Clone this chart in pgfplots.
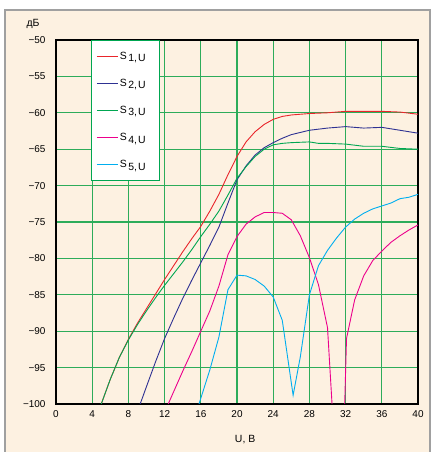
\documentclass[border=0pt]{standalone}
\usepackage{fontspec}
\setmainfont{Liberation Sans}
\usepackage{pgfplots}
\pgfplotsset{compat=1.18}
\definecolor{cream}{RGB}{253,241,225}
\definecolor{frame}{RGB}{160,160,160}
\definecolor{gridg}{RGB}{45,172,90}
\definecolor{sred}{RGB}{233,37,43}
\definecolor{sblue}{RGB}{46,49,146}
\definecolor{sgreen}{RGB}{0,166,81}
\definecolor{smag}{RGB}{236,0,140}
\definecolor{scyan}{RGB}{0,174,239}
\newcommand{\lent}[1]{S\kern1.5bp\raisebox{-2.5bp}{#1,\kern1bp U}}
\begin{document}
\begin{tikzpicture}[x=1bp,y=1bp]
\useasboundingbox (0,0) rectangle (431,452);
\fill[white] (0,0) rectangle (431,452);
\fill[cream] (5,-5) rectangle (430,442);
\draw[frame, line width=2bp] (5,-5) -- (5,442) -- (430,442) -- (430,-5);
\begin{axis}[
  at={(56bp,48bp)}, anchor=south west,
  scale only axis, width=362bp, height=364bp,
  xmin=0, xmax=40, ymin=-100, ymax=-50,
  xtick={0,4,...,40},
  xticklabels={0,4,8,12,16,20,24,28,32,36,40},
  ytick={-100,-95,...,-50},
  yticklabels={−100,−95,−90,−85,−80,−75,−70,−65,−60,−55,−50},
  major tick length=0pt,
  tick style={draw=none},
  grid=major,
  major grid style={draw=gridg, line width=1.1bp},
  axis line style={draw=black, line width=1.3bp},
  xticklabel style={font=\fontsize{10}{12}\selectfont, yshift=-3bp},
  yticklabel style={font=\fontsize{10}{12}\selectfont, xshift=-7bp},
  xlabel={U, B},
  xlabel style={font=\fontsize{10.5}{12}\selectfont, at={(axis cs:20.9,-100)}, anchor=center, yshift=-36bp},
  ylabel={дБ},
  ylabel style={font=\fontsize{10.5}{12}\selectfont, rotate=-90, at={(rel axis cs:0,1)}, anchor=center, xshift=-23bp, yshift=16bp},
  legend style={at={(axis cs:3.87,-50)}, anchor=north west, draw=sgreen, line width=1bp, fill=white,
    font=\fontsize{10.5}{12}\selectfont, inner xsep=5bp, inner ysep=10bp, row sep=15.3bp,
    nodes={inner sep=1.5bp, text width=33bp, align=left}},
  legend cell align=left,
  legend image code/.code={\draw[#1, line width=0.9bp] (0bp,0bp) -- (21bp,0bp);},
]
\addplot[sred, line width=0.9bp] coordinates {(5,-100) (6,-96.6) (7,-93.6) (8,-91.1) (9,-88.9) (10,-86.9) (11,-84.9) (12,-82.9) (13,-81) (14,-79.1) (15,-77.3) (16,-75.6) (17,-73.5) (18,-71.2) (19,-68.5) (20,-66) (21,-64.0) (22,-62.6) (23,-61.6) (24,-60.9) (25,-60.5) (26,-60.3) (28,-60.1) (30,-60.0) (32,-59.8) (34,-59.8) (36,-59.8) (38,-59.9) (40,-60.2)};
\addlegendentry{\lent{1}}
\addplot[sblue, line width=0.9bp] coordinates {(9.3,-100) (10,-97.6) (11,-94.2) (12,-91.0) (13,-88.2) (14,-85.5) (15,-83.0) (16,-80.6) (17,-78.2) (18,-75.7) (19,-72.4) (20,-69.2) (21,-67.3) (22,-65.8) (23,-64.8) (24,-64.1) (25,-63.5) (26,-63.0) (27,-62.7) (28,-62.4) (30,-62.1) (32,-61.9) (33,-62.0) (34,-62.1) (36,-62.0) (38,-62.4) (40,-62.8)};
\addlegendentry{\lent{2}}
\addplot[sgreen, line width=0.9bp] coordinates {(5,-100) (6,-96.6) (7,-93.6) (8,-91.2) (9,-89.1) (10,-87.2) (11,-85.4) (12,-83.7) (13,-82.1) (14,-80.5) (15,-78.8) (16,-77.0) (17,-75.3) (18,-73.5) (19,-71.3) (20,-69.0) (21,-67.4) (22,-66.0) (23,-65.0) (24,-64.4) (25,-64.2) (26,-64.1) (28,-64.0) (29,-64.2) (30,-64.2) (32,-64.3) (34,-64.6) (36,-64.6) (38,-64.9) (40,-65.0)};
\addlegendentry{\lent{3}}
\addplot[smag, line width=0.9bp] coordinates {(12.4,-100) (14,-95.5) (15,-92.8) (16,-90.0) (17,-87.2) (18,-83.8) (19,-79.5) (20,-77.0) (21,-75.3) (22,-74.3) (23,-73.7) (24,-73.7) (25,-73.8) (26,-74.7) (27,-76.9) (28,-79.9) (29,-83.6) (30,-89.5) (30.5,-100)};
\addlegendentry{\lent{4}}
\addplot[scyan, line width=0.9bp] coordinates {(15.8,-100) (17,-95.3) (18,-90.8) (19,-84.3) (20,-82.3) (21,-82.4) (22,-82.9) (23,-83.8) (24,-85.3) (25,-88.5) (26.2,-98.8) (27,-93.5) (28,-85.0) (29,-81.0) (30,-78.9) (31,-77.2) (32,-75.7) (33,-74.6) (34,-73.8) (35,-73.2) (36,-72.8) (37,-72.4) (38,-71.8) (39,-71.6) (40,-71.2)};
\addlegendentry{\lent{5}}
\addplot[smag, line width=0.9bp, forget plot] coordinates {(31.9,-100) (32.1,-91.0) (33,-85.7) (34,-82.4) (35,-80.3) (36,-79.0) (37,-77.8) (38,-76.9) (39,-76.1) (40,-75.4)};
\end{axis}
\end{tikzpicture}
\end{document}
